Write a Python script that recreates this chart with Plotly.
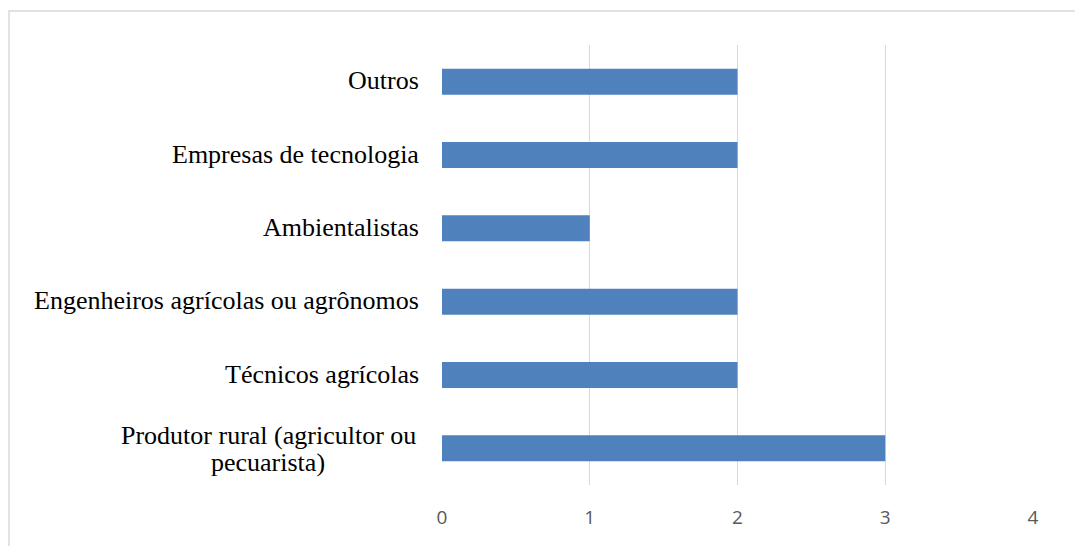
import plotly.graph_objects as go

# Categories listed bottom to top, as they appear on the vertical axis
categorias = [
    "Produtor rural (agricultor ou<br>pecuarista)",
    "Técnicos agrícolas",
    "Engenheiros agrícolas ou agrônomos",
    "Ambientalistas",
    "Empresas de tecnologia",
    "Outros",
]
valores = [3, 2, 2, 1, 2, 2]
x_ticks = [0, 1, 2, 3, 4]

W, H = 1075, 546
L, R, T, B = 442, 42, 45, 61

SERIF = "Liberation Serif, Times New Roman, DejaVu Serif, serif"
LABEL_SIZE = 26
LABEL_PAD = 21   # px between label and plot area
LINE_H = 27      # px between lines of a wrapped category label
AVG_ADV = 0.405  # approximate average glyph advance of the serif font, in em

fig = go.Figure()
fig.add_trace(go.Bar(
    x=valores,
    y=categorias,
    orientation="h",
    marker=dict(color="#4F81BD", line=dict(width=0)),
    hoverinfo="x+y",
))

# Category labels: the block is right-aligned at the axis, and
# the lines of a wrapped label are centered on each other.
annotations = []
for cat in categorias:
    lines = cat.split("<br>")
    n = len(lines)
    block_w = max(len(ln) for ln in lines) * LABEL_SIZE * AVG_ADV
    for i, ln in enumerate(lines):
        if n == 1:
            anchor, shift = "right", -LABEL_PAD
        else:
            anchor, shift = "center", -LABEL_PAD - block_w / 2
        annotations.append(dict(
            x=0, xref="paper", xanchor=anchor, xshift=shift,
            y=cat, yref="y", yanchor="middle",
            yshift=-(i - (n - 1) / 2) * LINE_H + (-1 if n > 1 else 1),
            text=ln, showarrow=False,
            font=dict(family=SERIF, size=LABEL_SIZE, color="#000000"),
        ))

ph = H - T - B
pw = W - L - R
fig.update_layout(
    width=W, height=H,
    margin=dict(l=L, r=R, t=T, b=B),
    paper_bgcolor="white",
    plot_bgcolor="white",
    bargap=0.645,
    showlegend=False,
    annotations=annotations,
    shapes=[dict(
        type="rect", xref="paper", yref="paper",
        x0=(9 - L) / pw, x1=(W + 20 - L) / pw,
        y0=-(B + 20) / ph, y1=(H - B - 11) / ph,
        line=dict(color="#D9D9D9", width=1.5),
        fillcolor="rgba(0,0,0,0)", layer="below",
    )],
    xaxis=dict(
        range=[0, 4],
        tickvals=x_ticks,
        showgrid=True, gridcolor="#D9D9D9", gridwidth=1,
        zeroline=False, showline=False,
        ticks="", ticklabelstandoff=19,
        tickfont=dict(family="Open Sans", size=19, color="#595959"),
        fixedrange=True,
    ),
    yaxis=dict(
        categoryorder="array", categoryarray=categorias,
        showticklabels=False, showgrid=False, zeroline=False,
        showline=False, ticks="", fixedrange=True,
    ),
)

fig.write_html("out.html")
